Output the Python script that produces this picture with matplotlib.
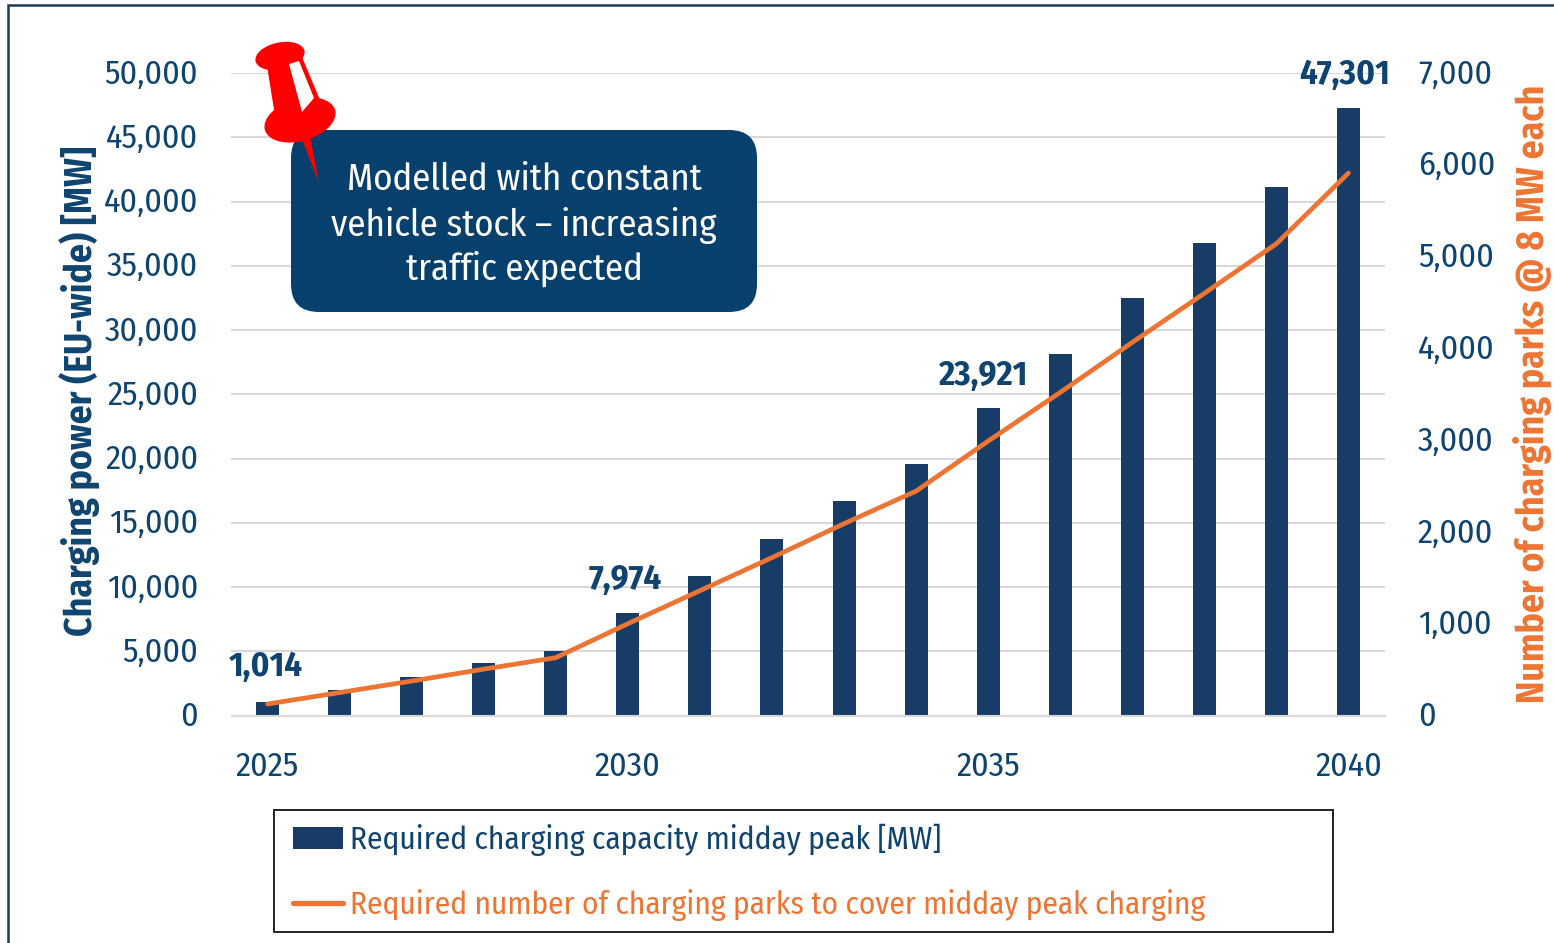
import matplotlib
matplotlib.use('Agg')
import matplotlib.pyplot as plt
from matplotlib.patches import FancyBboxPatch, Polygon, Ellipse, Patch, Rectangle
from matplotlib.lines import Line2D
from matplotlib.ticker import FuncFormatter
from matplotlib.transforms import ScaledTranslation

plt.rcParams['font.family'] = ['Fira Sans Condensed', 'Liberation Sans', 'DejaVu Sans']

years = list(range(2025, 2041))
capacity_mw = [1014, 2000, 3000, 4050, 5050, 7974, 10850, 13750,
               16700, 19550, 23921, 28150, 32500, 36800, 41100, 47301]
charging_parks = [125, 250, 375, 505, 630, 1000, 1360, 1720,
                  2090, 2445, 2990, 3520, 4065, 4600, 5140, 5910]
labelled_years = [2025, 2030, 2035, 2040]
label_offsets = [(-2, 36), (-2, 33), (-6, 32), (-4, 33)]

bar_label = 'Required charging capacity midday peak [MW]'
line_label = 'Required number of charging parks to cover midday peak charging'
left_label = 'Charging power (EU-wide) [MW]'
right_label = 'Number of charging parks @ 8 MW each'
note_lines = ['Modelled with constant', 'vehicle stock \u2013 increasing', 'traffic expected']

NAVY = '#173c66'
TEXT_NAVY = '#0f4470'
ORANGE = '#ed7534'
W, H = 1554, 943

fig = plt.figure(figsize=(W / 100, H / 100), dpi=100)
ax = fig.add_axes([231.5 / W, 1 - 715.5 / H, 1153 / W, 642.5 / H])
ax2 = ax.twinx()

ax.bar(years, capacity_mw, width=0.32, color=NAVY, zorder=3)
ax.set_xlim(2024.5, 2040.5)
ax.set_ylim(0, 50000)
ax.set_yticks(range(0, 50001, 5000))
ax.set_xticks(labelled_years)
ax.yaxis.set_major_formatter(FuncFormatter(lambda v, p: f'{int(v):,}'))
ax.grid(axis='y', color='#d9d9d9', lw=1.5, zorder=0)
ax.set_axisbelow(True)
ax.tick_params(axis='y', length=0, pad=24, labelsize=24.5, labelcolor=TEXT_NAVY)
ax.tick_params(axis='x', length=0, pad=25.5, labelsize=24.5, labelcolor=TEXT_NAVY)
ax.set_ylabel(left_label, fontsize=27, fontweight='bold', color=TEXT_NAVY)
ax.yaxis.set_label_coords(-0.113, 0.505)

ax2.plot(years, charging_parks, color=ORANGE, lw=3.4, solid_capstyle='round', zorder=4)
ax2.set_ylim(0, 7000)
ax2.set_yticks(range(0, 7001, 1000))
ax2.yaxis.set_major_formatter(FuncFormatter(lambda v, p: f'{int(v):,}'))
ax2.tick_params(axis='y', length=0, pad=24, labelsize=24.5, labelcolor=TEXT_NAVY)
ax2.set_ylabel(right_label, fontsize=27, fontweight='bold', color=ORANGE)
ax2.yaxis.set_label_coords(1.111, 0.50)

# tick labels sit a touch above the gridlines in the original
nudge = ScaledTranslation(0, 2 / 100, fig.dpi_scale_trans)
for a in (ax, ax2):
    for label in a.get_yticklabels():
        label.set_transform(label.get_transform() + nudge)
    for side in ('top', 'left', 'right'):
        a.spines[side].set_visible(False)
    a.spines['bottom'].set_color('#d9d9d9')
    a.spines['bottom'].set_linewidth(1.5)

for year, (dx, dy) in zip(labelled_years, label_offsets):
    value = capacity_mw[years.index(year)]
    ax2.annotate(f'{value:,}', xy=(year, value * 7000 / 50000), xytext=(dx * 0.72, dy * 0.72),
                 textcoords='offset points', ha='center', va='center',
                 fontsize=25, fontweight='bold', color=TEXT_NAVY, zorder=5)

# overlay in pixel coordinates for frame, callout and pin
ov = fig.add_axes([0, 0, 1, 1], zorder=10)
ov.set_xlim(0, W)
ov.set_ylim(H, 0)
ov.axis('off')
ov.patch.set_alpha(0)

ov.plot([8, 8, W], [H, 5, 5], color='#1a3a5c', lw=1.8, solid_joinstyle='miter')

ov.add_patch(FancyBboxPatch((291 + 28, 130 + 28), 466 - 56, 182 - 56,
                            boxstyle='round,pad=28,rounding_size=28',
                            fc='#07406d', ec='none'))
for text, y in zip(note_lines, [180, 225, 269]):
    ov.text(524, y, text, color='white', fontsize=26.5, ha='center', va='center')

# pin, outline
RED = '#ff0000'
ov.add_patch(Polygon([(302, 139), (310, 136), (319, 183)], fc=RED, ec='none'))
ov.add_patch(Polygon([(267, 66), (302, 57), (320, 100), (320, 118), (276, 122)], fc=RED, ec='none'))
ov.add_patch(Ellipse((300, 120), 73, 42, angle=-16, fc=RED, ec='none'))
ov.add_patch(Ellipse((280, 56), 50, 27, angle=-12, fc=RED, ec='none'))
ov.add_patch(Polygon([(289, 64), (299, 61), (314, 98), (302, 112)], fc='white', ec='none'))

# legend box is drawn apart so the inner padding can differ per direction
ov.add_patch(Rectangle((273.5, 809.5), 1059, 122, fc='white', ec='#222222', lw=1.4))
handles = [Patch(fc=NAVY, ec='none', label=bar_label),
           Line2D([0], [0], color=ORANGE, lw=3.8, solid_capstyle='round', label=line_label)]
ov.legend(handles=handles, loc='upper left',
          bbox_to_anchor=(293 / W, 1 - 823.5 / H),
          fontsize=22.6, labelcolor=[TEXT_NAVY, ORANGE], frameon=False, borderaxespad=0,
          handlelength=1.6, handletextpad=0.22, labelspacing=1.05, borderpad=0)

fig.savefig('out.png', dpi=100)
